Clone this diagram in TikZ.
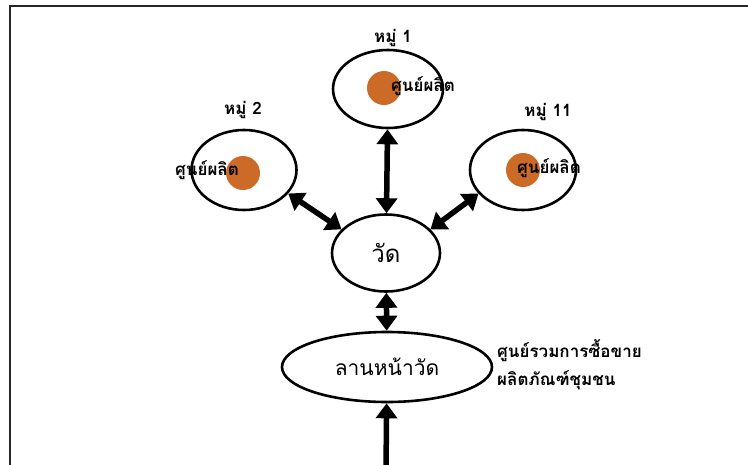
\documentclass[tikz,border=0pt]{standalone}
\usepackage{fontspec}
\newfontfamily\thai[Script=Thai]{Loma}
\usetikzlibrary{shapes.geometric,arrows.meta}
\definecolor{dotorange}{RGB}{204,106,40}
\tikzset{
  ring/.style={draw, ellipse, line width=2.6pt, inner sep=0pt},
  dot/.style={circle, fill=dotorange, minimum size=34pt, inner sep=0pt},
  lbl/.style={font=\thai\bfseries\fontsize{17}{19}\selectfont, inner sep=0pt},
  link/.style={line width=5.5pt, {Triangle[length=15pt,width=21pt]}-{Triangle[length=15pt,width=21pt]}},
}
\begin{document}
\begin{tikzpicture}[x=1pt, y=-1pt]
\useasboundingbox (0,0) rectangle (748,464);
\clip (0,0) rectangle (748,464);
\draw[line width=2.4pt, black!85](10,6) rectangle (770,490);
% villages
\node[ring, minimum width=110pt, minimum height=78pt] (m1) at (388,89) {};
\node[ring, minimum width=105pt, minimum height=80pt] (m2) at (244,170) {};
\node[ring, minimum width=106pt, minimum height=80pt] (m11) at (523,170) {};
\node[dot] (d1) at (384,88) {};
\node[dot] (d2) at (243,173) {};
\node[dot] (d11) at (523,170) {};
\node[lbl] (t1) at (423,86) {ศูนย์ผลิต};
\node[lbl] (t2) at (207,170) {ศูนย์ผลิต};
\node[lbl] (t11) at (549,168) {ศูนย์ผลิต};
\node[lbl] (n1) at (393,38) {หมู่ 1};
\node[lbl] (n2) at (243,110) {หมู่ 2};
\node[lbl] (n11) at (548,112) {หมู่ 11};
% temple
\node[ring, minimum width=108pt, minimum height=77pt, font=\thai\fontsize{24}{26}\selectfont] (wat) at (386,253) {วัด};
\node[ring, minimum width=210pt, minimum height=70pt, font=\thai\fontsize{21}{23}\selectfont] (lan) at (387,367) {ลานหน้าวัด};
\node[font=\thai\bfseries\fontsize{17}{19}\selectfont, anchor=west, align=left, inner sep=0pt] (note) at (497,365) {ศูนย์รวมการซื้อขาย\\[8pt]ผลิตภัณฑ์ชุมชน};
\coordinate (foot) at (386,470);
% arrows
\draw[link](m1)--(wat);
\draw[link](m2.-28)--(wat.152);
\draw[link](m11.-152)--(wat.28);
\draw[link](wat)--(lan);
\draw[line width=5.5pt, -{Triangle[length=15pt,width=21pt]}](foot)--(lan);
\end{tikzpicture}
\end{document}
